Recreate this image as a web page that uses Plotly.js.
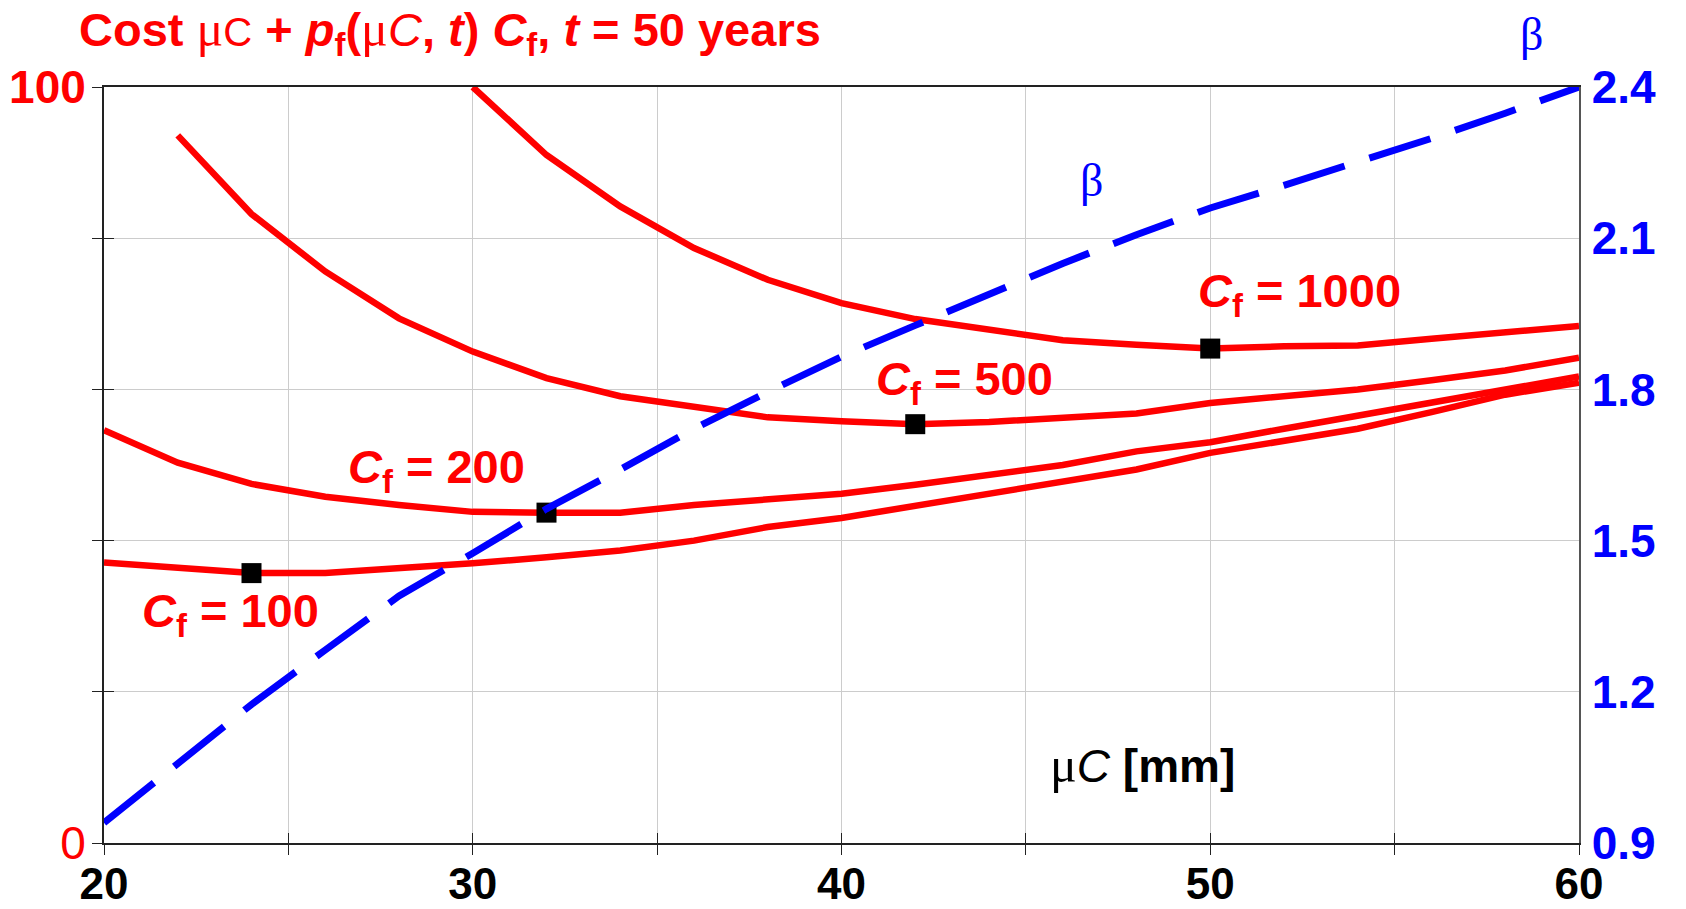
<!DOCTYPE html>
<html>
<head>
<meta charset="utf-8">
<script src="https://cdn.plot.ly/plotly-3.0.1.min.js"></script>
<style>html,body{margin:0;padding:0;background:#fff;}#chart{width:1686px;height:909px;}</style>
</head>
<body>
<div id="chart"></div>
<script>
// ---- data ----
const muC = [20,22,24,26,28,30,32,34,36,38,40,42,44,46,48,50,52,54,56,58,60];

const x1000 = [30,32,34,36,38,40,42,44,46,48,50,52,54,56,58,60];
const cost1000 = [100,91.0,84.2,78.7,74.5,71.4,69.3,67.9,66.5,65.9,65.4,65.7,65.8,66.7,67.5,68.4];

const x500 = [22,24,26,28,30,32,34,36,38,40,42,44,46,48,50,52,54,56,58,60];
const cost500 = [93.6,83.2,75.6,69.4,65.0,61.5,59.1,57.7,56.3,55.8,55.4,55.7,56.2,56.8,58.2,59.0,60.0,61.2,62.5,64.2];

const cost200 = [54.6,50.3,47.5,45.8,44.7,43.8,43.7,43.7,44.7,45.4,46.2,47.4,48.7,50.0,51.8,53.0,54.8,56.5,58.2,60.1,61.7];
const cost100 = [37.1,36.3,35.7,35.7,36.3,37.0,37.8,38.7,40.0,41.8,43.0,44.6,46.1,47.8,49.4,51.6,53.1,54.8,57.0,59.3,60.9];

const beta = [0.94,1.057,1.175,1.283,1.39,1.475,1.563,1.641,1.722,1.795,1.865,1.927,1.99,2.05,2.107,2.16,2.205,2.25,2.298,2.348,2.4];

const optX = [24,32,42,50];
const optCost = [35.7,43.7,55.4,65.4];

const xMajorTicks = [20,30,40,50,60];
const xMajorText = ['20','30','40','50','60'];
const xMinorTicks = [25,35,45,55];
const xAllTicks = [20,25,30,35,40,45,50,55,60];
const yLabelTicks = [0,100];
const yLabelText = ['0','<b>100</b>'];
const yMinorTicks = [20,40,60,80];
const yAllTicks = [0,20,40,60,80,100];
const y2TickVals = [0.9,1.2,1.5,1.8,2.1,2.4];
const y2TickText = ['0.9','1.2','1.5','1.8','2.1','2.4'];

const cfLabels = [
  {text:'<i>C</i><sub>f</sub> = 1000', x:49.6, y:72.6},
  {text:'<i>C</i><sub>f</sub> = 500',  x:40.88, y:61.0},
  {text:'<i>C</i><sub>f</sub> = 200',  x:26.55, y:49.4},
  {text:'<i>C</i><sub>f</sub> = 100',  x:20.98, y:30.3}
];

// ---- styling ----
const SANS = 'Liberation Sans, Arial, sans-serif';
const SERIF = 'Liberation Serif, Times New Roman, serif';
const RED = '#ff0000';
const BLUE = '#0000ff';
const GRID = '#cccccc';
const AX = '#222222';

const redLine = {color: RED, width: 6.5};

const traces = [
  {x: x1000, y: cost1000, type:'scatter', mode:'lines', line: redLine, hoverinfo:'skip', showlegend:false},
  {x: x500, y: cost500, type:'scatter', mode:'lines', line: redLine, hoverinfo:'skip', showlegend:false},
  {x: muC, y: cost200, type:'scatter', mode:'lines', line: redLine, hoverinfo:'skip', showlegend:false},
  {x: muC, y: cost100, type:'scatter', mode:'lines', line: redLine, hoverinfo:'skip', showlegend:false},
  {x: optX, y: optCost, type:'scatter', mode:'markers', marker:{symbol:'square', size:20, color:'#000'}, hoverinfo:'skip', showlegend:false},
  {x: muC, y: beta, type:'scatter', mode:'lines', yaxis:'y2', line:{color: BLUE, width: 7, dash:'64px,26px'}, hoverinfo:'skip', showlegend:false},
  {x: [], y: [], type:'scatter', mode:'lines', xaxis:'x3', yaxis:'y3', hoverinfo:'skip', showlegend:false}
];

const annotations = cfLabels.map(l => ({
  text: l.text, x: l.x, y: l.y, xref:'x', yref:'y', xanchor:'left', yanchor:'middle',
  showarrow:false, font:{family:SANS, size:47, color:RED, weight:'bold'}
}));

annotations.push({
  text:'β', x:46.78, y:87.6, xref:'x', yref:'y', xanchor:'center', yanchor:'middle',
  showarrow:false, font:{family:SERIF, size:46, color:BLUE}
});
annotations.push({
  text:'β', x:0.9675, y:1.069, xref:'paper', yref:'paper', xanchor:'center', yanchor:'middle',
  showarrow:false, font:{family:SERIF, size:46, color:BLUE}
});
annotations.push({
  text:'<span style="font-family:Liberation Serif;font-weight:normal;font-size:50px">μ</span><span style="font-weight:normal"><i>C</i></span> <b>[mm]</b>',
  x:45.6, y:10.3, xref:'x', yref:'y', xanchor:'left', yanchor:'middle',
  showarrow:false, font:{family:SANS, size:46, color:'#000'}
});

const titleText = 'Cost <span style="font-family:Liberation Serif;font-weight:normal;font-size:50px">μ</span><span style="font-weight:normal;font-size:40px">C</span> + <i>p</i><sub>f</sub>(<span style="font-family:Liberation Serif;font-weight:normal;font-size:50px">μ</span><span style="font-weight:normal"><i>C</i></span>, <i>t</i>) <i>C</i><sub>f</sub>, <i>t</i> = 50 years';

const layout = {
  width: 1686, height: 909,
  margin: {l:104, r:107, t:87, b:66},
  paper_bgcolor:'#fff', plot_bgcolor:'#fff',
  showlegend:false,
  title: {
    text: titleText, x: 79/1686, xref:'container', xanchor:'left',
    y: 1 - 30/909, yref:'container', yanchor:'middle',
    font: {family:SANS, size:47, color:RED, weight:'bold'}
  },
  xaxis: {
    range:[20,60], tickmode:'array', tickvals:xMajorTicks, ticktext:xMajorText,
    tickfont:{family:SANS, size:44, color:'#000', weight:'bold'},
    ticks:'outside', ticklen:10, tickwidth:1, tickcolor:AX, ticklabelstandoff:-9,
    showgrid:true, gridcolor:GRID, gridwidth:1,
    minor:{tickmode:'array', tickvals:xMinorTicks, ticks:'outside', ticklen:10, tickwidth:1, tickcolor:AX, showgrid:true, gridcolor:GRID, gridwidth:1},
    showline:true, linecolor:AX, linewidth:2, mirror:true, zeroline:false
  },
  xaxis3: {
    overlaying:'x', anchor:'y', range:[20,60], tickmode:'array', tickvals:xAllTicks,
    showticklabels:false, ticks:'inside', ticklen:10, tickwidth:1, tickcolor:AX,
    showgrid:false, showline:false, zeroline:false
  },
  yaxis: {
    range:[0,100], tickmode:'array', tickvals:yLabelTicks, ticktext:yLabelText,
    tickfont:{family:SANS, size:46, color:RED},
    ticks:'outside', ticklen:10, tickwidth:1, tickcolor:AX, ticklabelstandoff:-3,
    showgrid:true, gridcolor:GRID, gridwidth:1,
    minor:{tickmode:'array', tickvals:yMinorTicks, ticks:'outside', ticklen:10, tickwidth:1, tickcolor:AX, showgrid:true, gridcolor:GRID, gridwidth:1},
    showline:true, linecolor:AX, linewidth:2, zeroline:false
  },
  yaxis3: {
    overlaying:'y', anchor:'x', side:'left', range:[0,100], tickmode:'array', tickvals:yAllTicks,
    showticklabels:false, ticks:'inside', ticklen:10, tickwidth:1, tickcolor:AX,
    showgrid:false, showline:false, zeroline:false
  },
  yaxis2: {
    overlaying:'y', side:'right', anchor:'x', range:[0.9,2.4], tickmode:'array',
    tickvals:y2TickVals, ticktext:y2TickText,
    tickfont:{family:SANS, size:46, color:BLUE, weight:'bold'},
    ticks:'', ticklabelstandoff:2,
    showgrid:false, showline:true, linecolor:'#555', linewidth:1.5, zeroline:false
  },
  annotations: annotations
};

Plotly.newPlot('chart', traces, layout, {displayModeBar:false, staticPlot:true});
</script>
</body>
</html>
